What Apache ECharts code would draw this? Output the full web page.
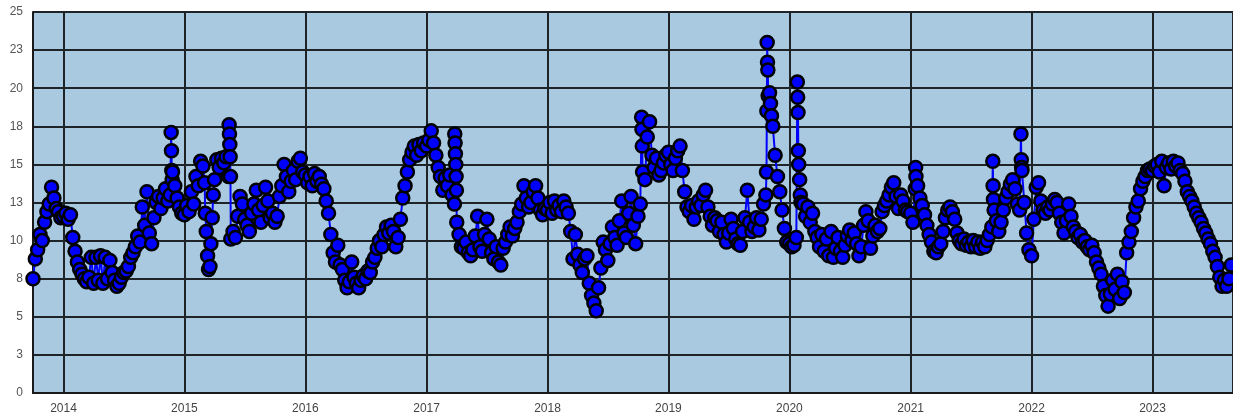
<!DOCTYPE html>
<html>
<head>
<meta charset="utf-8">
<script src="https://cdn.jsdelivr.net/npm/echarts@6/dist/echarts.min.js"></script>
<style>
  html, body { margin: 0; padding: 0; background: #fff; }
  #chart { width: 1233px; height: 418px; }
</style>
</head>
<body>
<div id="chart"></div>
<script>
// weekly readings, each array starts at its year's first date
const w2013 = [7.5, 8.8, 9.4, 10.4, 10.0, 11.2, 11.9, 12.4, 13.5, 12.8, 12.1, 11.9, 11.5]
const w2014 = [11.6, 11.8, 11.4, 11.7, 10.2, 9.3, 8.6, 8.1, 7.8, 7.5, 7.3, 7.6, 8.9, 7.2, 8.9, 7.4, 9.0, 7.2, 8.9, 7.5,
  8.7, 7.9, 7.4, 7.0, 7.2, 7.6, 7.9, 8.0, 8.3, 8.9, 9.2, 9.6, 10.3, 9.9, 12.2, 11.0, 13.2, 10.5, 9.8, 11.5,
  12.5, 12.9, 12.1, 12.8, 13.4, 12.6, 13.0, 14.5, 13.6, 12.8, 12.2, 11.8]
const w2015 = [11.7, 12.3, 11.9, 13.2, 12.4, 14.2, 13.6, 15.2, 14.9, 11.8, 9.0, 8.3, 11.5, 14.0, 15.3, 14.8, 15.4, 15.1, 15.5, 14.2,
  10.1, 10.6, 10.2, 11.6, 12.9, 12.4, 11.4, 11.0, 10.6, 11.8, 12.4, 13.3, 12.0, 11.2, 12.3, 13.5, 12.6, 11.5, 11.8, 11.2,
  11.6, 12.9, 13.6, 15.0, 14.2, 13.2, 13.9, 14.6, 14.0, 15.2, 15.4, 14.5]
const w2016 = [14.3, 13.8, 14.2, 13.6, 14.4, 13.9, 14.2, 13.7, 13.4, 12.6, 11.8, 10.4, 9.2, 8.6, 9.7, 8.4, 8.1, 7.4, 6.9, 7.3,
  8.6, 7.6, 7.2, 6.9, 7.4, 7.7, 7.5, 8.0, 7.9, 8.6, 8.9, 9.5, 10.0, 9.6, 10.4, 10.9, 10.5, 11.0, 10.6, 9.6,
  10.2, 11.4, 12.8, 13.6, 14.5, 15.3, 15.8, 16.2, 15.6, 16.3, 15.9, 16.4]
const w2017 = [16.2, 16.6, 17.2, 16.4, 15.6, 14.8, 14.2, 13.3, 14.1, 13.6, 14.3, 13.0, 12.4, 11.2, 10.4, 9.6, 9.5, 9.9, 9.2, 9.0,
  9.4, 10.3, 11.6, 9.6, 9.3, 10.4, 11.4, 10.1, 9.2, 8.8, 9.6, 8.6, 8.4, 9.5, 9.9, 10.4, 10.9, 10.3, 10.8, 11.2,
  11.9, 12.4, 13.6, 12.8, 12.2, 12.5, 13.2, 13.6, 12.8, 12.0, 11.7, 12.1]
const w2018 = [12.0, 12.5, 11.8, 12.6, 12.0, 12.3, 11.9, 12.6, 12.2, 11.8, 10.6, 8.8, 10.4, 9.1, 8.4, 7.9, 8.8, 9.0, 7.2, 6.4,
  5.9, 5.4, 6.9, 8.2, 9.9, 9.4, 8.7, 9.8, 10.9, 10.2, 9.7, 11.3, 12.6, 10.5, 10.2, 11.8, 12.9, 11.0, 9.8, 11.6,
  12.4, 14.5, 14.0, 16.8, 17.8, 15.6, 14.8, 15.4, 14.3, 14.6, 15.1, 15.6]
const w2019 = [15.8, 15.0, 14.6, 15.4, 15.9, 16.2, 14.6, 13.2, 12.2, 11.9, 12.3, 11.4, 12.2, 12.6, 12.3, 13.0, 13.3, 12.2, 11.6, 11.0,
  11.5, 11.3, 10.6, 11.2, 10.4, 9.9, 10.5, 11.4, 10.8, 10.1, 9.8, 9.7, 10.6, 11.5, 13.3, 11.2, 10.6, 10.9, 11.5, 10.7,
  11.4, 12.4, 13.0, 19.5, 19.0, 17.5, 15.6, 14.2, 13.2, 12.0, 10.8, 9.9]
const w2020 = [9.8, 9.6, 9.7, 10.2, 15.0, 12.5, 12.4, 11.6, 12.2, 11.2, 11.8, 10.6, 10.2, 9.6, 10.4, 9.3, 10.1, 9.0, 10.6, 8.9,
  9.5, 10.2, 9.3, 8.9, 9.7, 10.3, 10.7, 10.0, 10.5, 9.8, 9.0, 9.6, 11.0, 11.9, 11.3, 9.5, 10.3, 11.0, 10.6, 10.8,
  11.9, 12.3, 12.6, 13.0, 13.5, 13.8, 12.9, 12.1, 13.0, 12.6, 12.0, 11.9]
const w2021 = [11.8, 11.2, 13.4, 13.6, 12.8, 12.3, 11.7, 11.0, 10.4, 9.9, 9.3, 9.2, 9.6, 9.8, 10.6, 11.5, 12.0, 12.2, 11.9, 11.4,
  10.5, 10.0, 9.8, 10.1, 9.7, 9.9, 9.6, 10.0, 9.6, 9.9, 9.5, 9.9, 9.6, 10.0, 10.4, 10.9, 12.0, 11.3, 10.6, 11.2,
  12.0, 12.8, 13.2, 13.7, 14.0, 13.4, 12.4, 12.0, 14.6, 12.5, 10.5, 9.4]
const w2022 = [9.0, 11.4, 13.5, 13.8, 12.6, 12.0, 11.8, 12.2, 12.0, 12.4, 12.7, 12.5, 11.8, 11.2, 10.5, 11.3, 12.4, 11.6, 10.9, 10.6,
  10.2, 10.4, 9.9, 10.0, 9.6, 9.4, 9.7, 9.2, 8.6, 8.2, 7.8, 7.0, 6.4, 5.7, 6.5, 7.4, 6.8, 7.8, 6.2, 7.3,
  6.6, 9.2, 9.9, 10.6, 11.5, 12.2, 12.6, 13.4, 13.9, 14.2, 14.6, 14.7]
const w2023 = [14.6, 14.9, 15.0, 14.5, 15.2, 13.6, 14.8, 15.1, 14.7, 15.2, 14.9, 15.1, 14.6, 14.4, 13.9, 13.2, 12.9, 12.6, 12.2, 11.8,
  11.5, 11.2, 10.8, 10.5, 10.1, 9.8, 9.3, 8.9, 8.3, 7.6, 7.0, 7.4, 7.0, 7.5, 8.4, 8.6]

const blockStarts = ['2013-10-01', '2014-01-01', '2015-01-01', '2016-01-01', '2017-01-01', '2018-01-01',
  '2019-01-01', '2020-01-01', '2021-01-01', '2022-01-01', '2023-01-01']
const blocks = [w2013, w2014, w2015, w2016, w2017, w2018, w2019, w2020, w2021, w2022, w2023]

// short bursts of daily readings (spikes)
const extraDays = [
  ['2014-11-22', 17.1], ['2014-11-23', 15.9], ['2014-11-24', 14.6], ['2014-11-25', 14.0],
  ['2015-03-03', 13.8], ['2015-03-08', 10.6], ['2015-03-15', 8.1], ['2015-03-22', 9.8], ['2015-03-29', 13.0],
  ['2015-05-16', 17.6], ['2015-05-17', 17.0], ['2015-05-18', 16.3], ['2015-05-19', 15.5], ['2015-05-20', 14.2],
  ['2017-03-27', 17.0], ['2017-03-28', 16.4], ['2017-03-29', 15.7], ['2017-03-30', 15.0], ['2017-03-31', 14.2], ['2017-04-01', 13.3],
  ['2018-10-12', 18.1], ['2018-10-13', 17.3], ['2018-10-14', 16.2],
  ['2019-10-24', 14.5], ['2019-10-25', 18.5], ['2019-10-26', 23.0], ['2019-10-27', 21.7], ['2019-10-28', 21.2],
  ['2019-11-02', 19.7], ['2019-11-08', 18.2],
  ['2020-01-25', 20.4], ['2020-01-26', 19.4], ['2020-01-27', 18.4], ['2020-01-28', 15.9], ['2020-02-01', 14.0], ['2020-02-03', 13.0],
  ['2021-01-16', 14.8], ['2021-01-17', 14.2],
  ['2021-09-06', 15.2], ['2021-09-07', 13.6], ['2021-09-08', 12.7],
  ['2021-11-30', 17.0], ['2021-12-01', 15.3], ['2021-12-02', 14.8],
]

const axisMin = '2013-10-01'
const axisMax = '2023-09-01'

const DAY = 86400000
const points = []
blocks.forEach((vals, b) => {
  const t0 = +new Date(blockStarts[b] + 'T00:00:00Z')
  vals.forEach((v, i) => points.push([t0 + i * 7 * DAY, v]))
})
extraDays.forEach(([d, v]) => points.push([+new Date(d + 'T00:00:00Z'), v]))
points.sort((a, b) => a[0] - b[0])

const chart = echarts.init(document.getElementById('chart'))

const option = {
  animation: false,
  textStyle: { fontFamily: 'Liberation Sans, Arial, sans-serif' },
  grid: {
    left: 33,
    right: 0,
    top: 12,
    bottom: 25,
    show: true,
    backgroundColor: '#a9c9e1',
    borderWidth: 0,
  },
  xAxis: {
    type: 'time',
    min: +new Date(axisMin + 'T00:00:00Z'),
    max: +new Date(axisMax + 'T00:00:00Z'),
    minInterval: 365 * DAY,
    maxInterval: 366 * DAY,
    axisLine: { show: true, lineStyle: { color: '#1a1a1a', width: 2 } },
    axisTick: { show: false },
    splitLine: { show: true, lineStyle: { color: '#1e2328', width: 2 } },
    axisLabel: {
      color: '#444',
      fontSize: 12,
      margin: 10,
      formatter: (val) => String(new Date(val).getUTCFullYear()),
    },
  },
  yAxis: {
    type: 'value',
    min: 0,
    max: 25,
    interval: 2.5,
    axisLine: { show: true, lineStyle: { color: '#1a1a1a', width: 2 } },
    axisTick: { show: false },
    splitLine: { show: true, lineStyle: { color: '#1e2328', width: 2 } },
    axisLabel: {
      color: '#555',
      fontSize: 12,
      margin: 10,
      formatter: (v) => String(Math.round(v)),
    },
  },
  series: [
    {
      type: 'line',
      data: points,
      showAllSymbol: true,
      symbol: 'circle',
      symbolSize: 13,
      lineStyle: { color: '#0000ff', width: 2 },
      itemStyle: { color: '#0000ff', borderColor: '#000', borderWidth: 2.5 },
    },
  ],
}

chart.setOption(option)
</script>
</body>
</html>
